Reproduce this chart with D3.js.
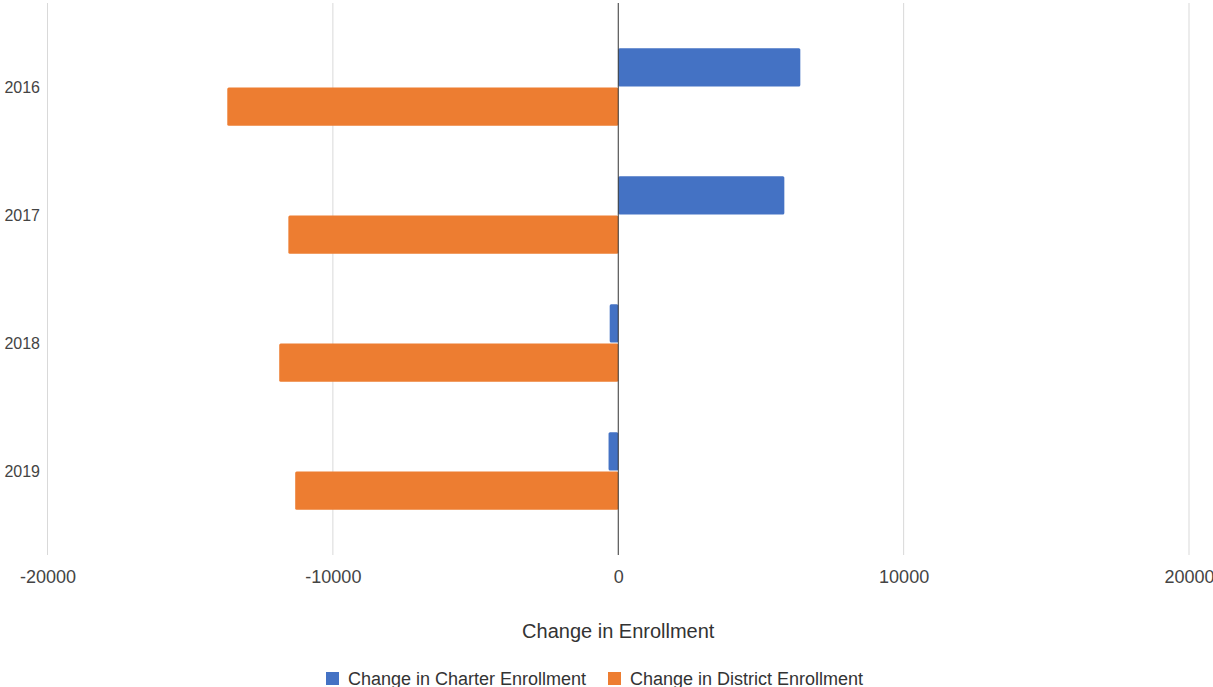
<!DOCTYPE html>
<html>
<head>
<meta charset="utf-8">
<script src="https://cdn.jsdelivr.net/npm/d3@7"></script>
<style>
  body { margin: 0; background: #fff; }
  svg { display: block; font-family: "Liberation Sans", Arial, sans-serif; }
</style>
</head>
<body>
<svg id="chart" width="1213" height="687"></svg>
<script>
// Year-over-year change in enrollment, charter vs. district
const years = ["2016", "2017", "2018", "2019"];
const charterChange = [6380, 5820, -300, -340];
const districtChange = [-13700, -11560, -11880, -11320];
const seriesNames = ["Change in Charter Enrollment", "Change in District Enrollment"];
const seriesColors = ["#4472C4", "#ED7D31"];
const xTicks = [-20000, -10000, 0, 10000, 20000];

const svg = d3.select("#chart");
const plotTop = 3, plotBottom = 555;

const x = d3.scaleLinear().domain([-20000, 20000]).range([47.5, 1189]);
const y0 = d3.scaleBand().domain(years).range([23, 535]).paddingInner(0.383).paddingOuter(0.1915);
const y1 = d3.scaleBand().domain(seriesNames).range([0, y0.bandwidth()]).padding(0.02);

// vertical gridlines
svg.append("g").selectAll("line")
  .data(xTicks.filter(d => d !== 0))
  .join("line")
  .attr("x1", d => x(d)).attr("x2", d => x(d))
  .attr("y1", plotTop).attr("y2", plotBottom)
  .attr("stroke", "#d9d9d9").attr("stroke-width", 1);

// bars
const rows = years.map((yr, i) => ({ yr, vals: [charterChange[i], districtChange[i]] }));
const groups = svg.append("g").selectAll("g")
  .data(rows)
  .join("g")
  .attr("transform", d => `translate(0,${y0(d.yr)})`);

groups.selectAll("rect")
  .data(d => d.vals.map((v, j) => ({ v, name: seriesNames[j], color: seriesColors[j] })))
  .join("rect")
  .attr("x", d => Math.min(x(0), x(d.v)))
  .attr("width", d => Math.abs(x(d.v) - x(0)))
  .attr("y", d => y1(d.name))
  .attr("height", y1.bandwidth())
  .attr("rx", 1.5)
  .attr("fill", d => d.color);

// zero baseline
svg.append("line")
  .attr("x1", x(0)).attr("x2", x(0))
  .attr("y1", plotTop).attr("y2", plotBottom)
  .attr("stroke", "#333").attr("stroke-width", 1);

// x axis tick labels
const xAxis = d3.axisBottom(x).tickValues(xTicks).tickSize(0).tickPadding(0).tickFormat(d => String(d));
const gx = svg.append("g").attr("transform", `translate(0,${plotBottom + 28})`).call(xAxis);
gx.select(".domain").remove();
gx.selectAll("text")
  .attr("dy", 0)
  .attr("fill", "#444")
  .style("font-size", "18px")
  .style("font-family", "'Liberation Sans', Arial, sans-serif");

// y axis category labels
const yAxis = d3.axisLeft(y0).tickSize(0).tickPadding(0);
const gy = svg.append("g").attr("transform", "translate(40,1)").call(yAxis);
gy.select(".domain").remove();
gy.selectAll("text")
  .attr("fill", "#444")
  .style("font-size", "16px")
  .style("font-family", "'Liberation Sans', Arial, sans-serif");

// axis title
svg.append("text")
  .attr("x", x(0)).attr("y", 638)
  .attr("text-anchor", "middle")
  .attr("fill", "#333")
  .style("font-size", "20px")
  .text("Change in Enrollment");

// legend
const legend = svg.append("g").attr("transform", "translate(326,678)");
const legendX = [0, 282];
seriesNames.forEach((name, i) => {
  const g = legend.append("g").attr("transform", `translate(${legendX[i]},0)`);
  g.append("rect").attr("x", 0).attr("y", -6).attr("width", 13).attr("height", 13).attr("fill", seriesColors[i]);
  g.append("text").attr("x", 22).attr("y", 7)
    .attr("fill", "#333").style("font-size", "18px").text(name);
});
</script>
</body>
</html>
